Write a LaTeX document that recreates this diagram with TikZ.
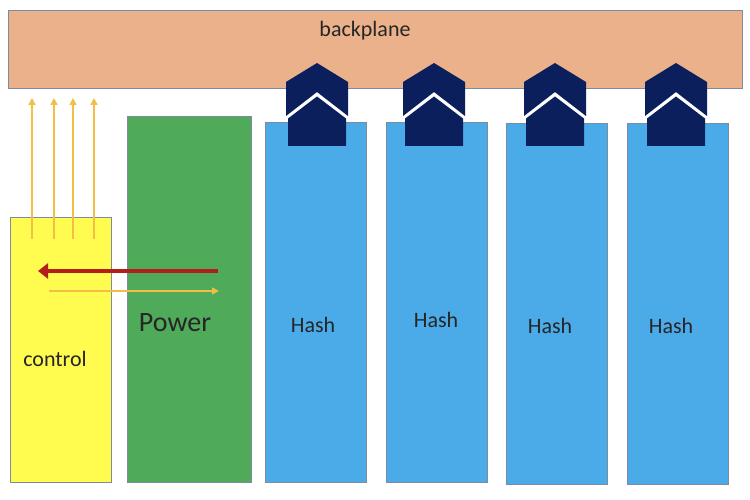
\documentclass[tikz,border=0pt]{standalone}
\usepackage{fontspec}
\setmainfont{Carlito}
\usetikzlibrary{arrows.meta}
\definecolor{peach}{HTML}{EAB18A}
\definecolor{edgegray}{HTML}{7D8BA0}
\definecolor{ctrlyellow}{HTML}{FFFB4F}
\definecolor{pwrgreen}{HTML}{4FAA59}
\definecolor{hashblue}{HTML}{4AABE8}
\definecolor{navy}{HTML}{0B1F5C}
\definecolor{sigyellow}{HTML}{F2BE45}
\definecolor{sigred}{HTML}{B21F1A}
\tikzset{
  board/.style={draw=edgegray, line width=0.9pt, anchor=north west, inner sep=0pt},
  lbl/.style={text=black!85, font=\fontsize{22}{26}\selectfont, inner sep=0pt},
  uparrow/.style={draw=sigyellow, line width=1.6pt, -{Triangle[length=7pt,width=7pt]}},
}
\begin{document}
\begin{tikzpicture}[x=1pt,y=-1pt]
\useasboundingbox (0,0) rectangle (750,500);
\fill[white] (0,0) rectangle (750,500);
% backplane
\node[board, fill=peach, minimum width=734, minimum height=78] (bp) at (8,10) {};
\node[lbl] (bplbl) at (365,31) {backplane};
% boards
\node[board, fill=ctrlyellow, minimum width=101, minimum height=265] (ctrl) at (10,217) {};
\node[board, fill=pwrgreen, minimum width=124, minimum height=366] (pwr) at (127,116) {};
\node[board, fill=hashblue, minimum width=101, minimum height=360] (h1) at (265,122) {};
\node[board, fill=hashblue, minimum width=101, minimum height=360] (h2) at (386,122) {};
\node[board, fill=hashblue, minimum width=101, minimum height=361] (h3) at (506,123) {};
\node[board, fill=hashblue, minimum width=101, minimum height=361] (h4) at (627,123) {};
% labels
\node[lbl] (ctrllbl) at (55,359) {control};
\node[lbl, font=\fontsize{28}{32}\selectfont] (pwrlbl) at (175,323) {Power};
\node[lbl] (h1lbl) at (313,325) {Hash};
\node[lbl] (h2lbl) at (436,320) {Hash};
\node[lbl] (h3lbl) at (550,326) {Hash};
\node[lbl] (h4lbl) at (671,326) {Hash};
% connectors
\foreach \cx in {317,434,555,676}{
  \fill[navy] (\cx-31,82) -- (\cx,63) -- (\cx+31,82) -- (\cx+31,116) -- (\cx,92) -- (\cx-31,116) -- cycle;
  \fill[navy] (\cx-29,146) -- (\cx-29,118.5) -- (\cx,96.5) -- (\cx+29,118.5) -- (\cx+29,146) -- cycle;
}
% control signal arrows
\foreach \ax/\n in {32/a,54/b,73/c,94/d}{
  \coordinate (s\n) at (\ax,239);
  \coordinate (t\n) at (\ax,98);
  \draw[uparrow] (s\n) -- (t\n);
}
\coordinate (rs) at (218,271);
\coordinate (re) at (38,271);
\draw[draw=sigred, line width=4.5pt, -{Triangle[length=10pt,width=15pt]}] (rs) -- (re);
\coordinate (ys) at (49,291);
\coordinate (ye) at (219,291);
\draw[draw=sigyellow, line width=1.6pt, -{Triangle[length=7pt,width=7pt]}] (ys) -- (ye);
\end{tikzpicture}
\end{document}
